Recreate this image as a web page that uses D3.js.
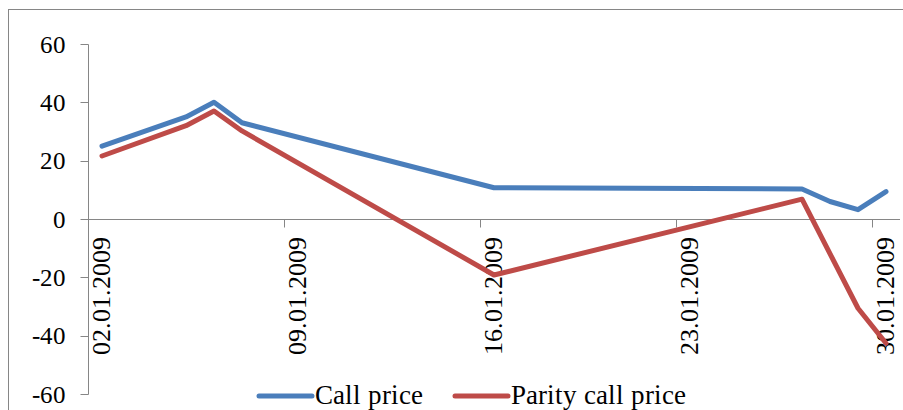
<!DOCTYPE html>
<html><head><meta charset="utf-8">
<script src="https://cdn.jsdelivr.net/npm/d3@7"></script>
<style>
@font-face{font-family:"ChartSerif";src:local("Liberation Serif"),local("LiberationSerif"),local("Liberation Serif Regular"),local("LiberationSerif-Regular"),local("Times New Roman"),local("Tinos");}
body{margin:0;background:#fff}svg{display:block}
</style>
</head><body><div id="chart"></div>
<script>
const callDates = ["2009-01-02","2009-01-05","2009-01-06","2009-01-07","2009-01-16","2009-01-27","2009-01-28","2009-01-29","2009-01-30"];
const callValues = [25, 35, 40, 33, 10.7, 10.3, 6, 3.2, 9.4];
const parityDates = ["2009-01-02","2009-01-05","2009-01-06","2009-01-07","2009-01-16","2009-01-27","2009-01-29","2009-01-30"];
const parityValues = [21.6, 32, 37, 30.2, -19.2, 6.8, -30.6, -42.6];
const tickDates = ["2009-01-02","2009-01-09","2009-01-16","2009-01-23","2009-01-30"];
const tickLabels = ["02.01.2009","09.01.2009","16.01.2009","23.01.2009","30.01.2009"];
const yTicks = [-60,-40,-20,0,20,40,60];
const seriesNames = ["Call price","Parity call price"];
const colors = ["#4a7ebb","#be4b48"];

const FONT = "ChartSerif, Liberation Serif, Times New Roman, serif";
const svg = d3.select("#chart").append("svg").attr("width", 903).attr("height", 410);
const parse = d3.utcParse("%Y-%m-%d");
const dayMs = 864e5;
const axisColor = "#868686";

svg.append("rect").attr("x", 8.5).attr("y", 9.5).attr("width", 900).attr("height", 420)
  .attr("fill", "none").attr("stroke", axisColor).attr("stroke-width", 1);

const x = d3.scaleUtc().domain([parse("2009-01-02"), parse("2009-01-31")]).range([88, 900]);
const y = d3.scaleLinear().domain([-60, 60]).range([394, 44]);

// y axis
svg.append("line").attr("x1", 88.5).attr("x2", 88.5).attr("y1", y(60) + 0.5).attr("y2", y(-60) + 0.5).attr("stroke", axisColor);
svg.selectAll("line.yt").data(yTicks).enter().append("line").attr("class", "yt")
  .attr("x1", 80.5).attr("x2", 88.5).attr("y1", d => Math.round(y(d)) + 0.5).attr("y2", d => Math.round(y(d)) + 0.5).attr("stroke", axisColor);
svg.selectAll("text.yl").data(yTicks).enter().append("text").attr("class", "yl")
  .attr("x", 66).attr("y", d => y(d) + 8.5).attr("text-anchor", "end")
  .attr("font-size", 25).attr("fill", "#000").text(d => String(d));

// x axis at zero
const y0 = Math.round(y(0)) + 0.5;
svg.append("line").attr("x1", 88).attr("x2", 900).attr("y1", y0).attr("y2", y0).attr("stroke", axisColor);
svg.selectAll("line.xt").data(tickDates.slice(1)).enter().append("line").attr("class", "xt")
  .attr("x1", d => Math.round(x(parse(d))) + 0.5).attr("x2", d => Math.round(x(parse(d))) + 0.5)
  .attr("y1", y0).attr("y2", y0 + 8).attr("stroke", axisColor);
svg.selectAll("text.xl").data(tickDates).enter().append("text").attr("class", "xl")
  .attr("x", 0).attr("y", 0)
  .attr("transform", d => `translate(${x(new Date(+parse(d) + dayMs / 2)) + 8},${y0 + 17}) rotate(-90)`)
  .attr("text-anchor", "end").attr("font-size", 26).text((d, i) => tickLabels[i]);

const line = d3.line().x(d => x(new Date(+parse(d[0]) + dayMs / 2))).y(d => y(d[1]));
const series = [d3.zip(callDates, callValues), d3.zip(parityDates, parityValues)];
series.forEach((s, i) => {
  svg.append("path").datum(s).attr("d", line).attr("fill", "none")
    .attr("stroke", colors[i]).attr("stroke-width", 5).attr("stroke-linejoin", "round").attr("stroke-linecap", "round");
});

// legend
const legX = [259, 455];
seriesNames.forEach((n, i) => {
  svg.append("line").attr("x1", legX[i]).attr("x2", legX[i] + 53).attr("y1", 396).attr("y2", 396)
    .attr("stroke", colors[i]).attr("stroke-width", 5).attr("stroke-linecap", "round");
  svg.append("text").attr("x", legX[i] + 56).attr("y", 404).attr("font-size", 27).text(n);
});

svg.selectAll("text").attr("font-family", FONT).style("font-family", FONT, "important");
</script></body></html>
